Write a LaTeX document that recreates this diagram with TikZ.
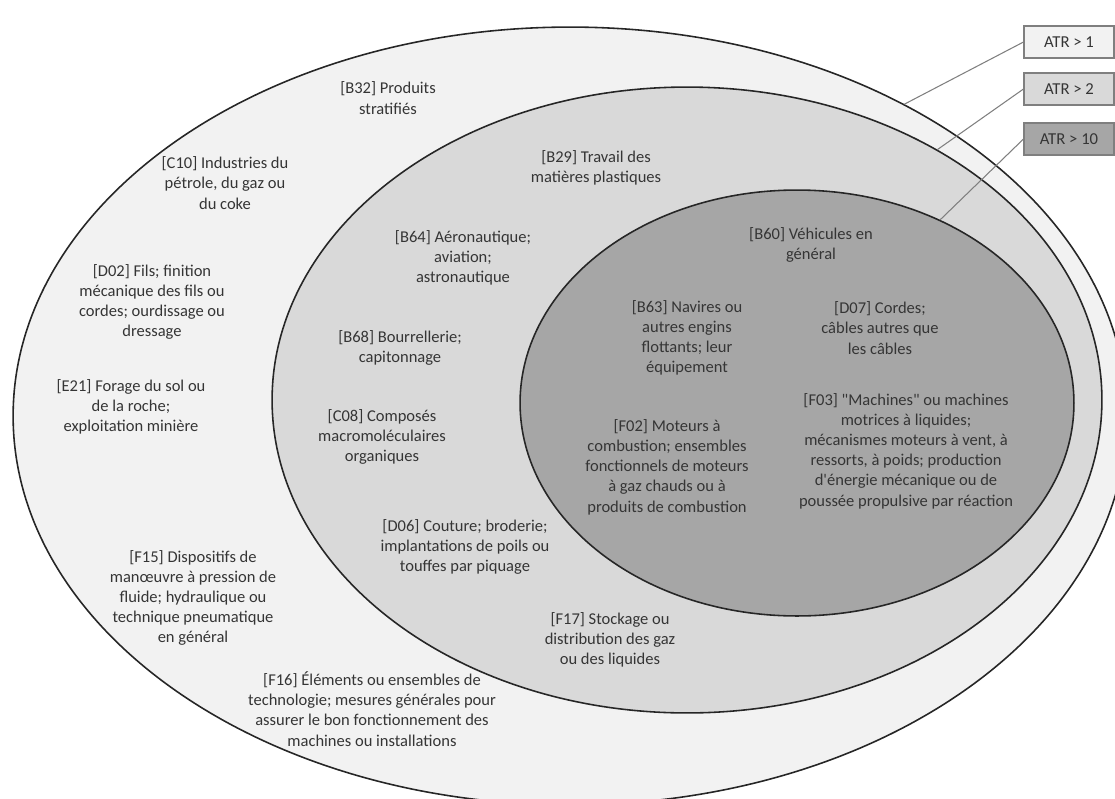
\documentclass[tikz,border=0pt]{standalone}
\usepackage{fontspec}
\setmainfont{Carlito}[Ligatures=TeXOff]
\usetikzlibrary{shapes.geometric}
\definecolor{ringone}{HTML}{F2F2F2}
\definecolor{ringtwo}{HTML}{D9D9D9}
\definecolor{ringten}{HTML}{A6A6A6}
\definecolor{edge}{HTML}{262626}
\definecolor{ink}{HTML}{353535}
\definecolor{boxline}{HTML}{7F7F7F}
\begin{document}
\begin{tikzpicture}[x=0.02cm,y=-0.02cm,
    ring/.style={ellipse,draw=edge,line width=0.9pt,inner sep=0pt},
    lbl/.style={text=ink,align=center,inner sep=0pt,font=\fontsize{9.4}{11.5}\selectfont},
    atrbox/.style={draw=boxline,line width=0.6pt,minimum width=1.8cm,minimum height=0.64cm,inner sep=0pt,text=ink,font=\fontsize{9.5}{10}\selectfont},
    lead/.style={draw=boxline,line width=0.6pt}]
    \useasboundingbox (0,0) rectangle (1115,798);
    \clip (0,0) rectangle (1115,798);
    \node[ring,fill=ringone,minimum width=22.28cm,minimum height=15.56cm] (outer) at (570,416) {};
    \node[ring,fill=ringtwo,minimum width=16.6cm,minimum height=12.52cm] (middle) at (687,400) {};
    \node[ring,fill=ringten,minimum width=11.08cm,minimum height=8.52cm] (inner) at (797,403) {};
    \node[atrbox,fill=ringone] (atrone) at (1069,42) {ATR > 1};
    \node[atrbox,fill=ringtwo] (atrtwo) at (1069,89) {ATR > 2};
    \node[atrbox,fill=ringten] (atrten) at (1069,139) {ATR > 10};
    \draw[lead] (atrone.west) -- (outer.43);
    \draw[lead] (atrtwo.west) -- (middle.45);
    \draw[lead] (atrten.west) -- (inner.52);
    \node[lbl] (b32) at (388,98) {[B32] Produits\\stratifiés};
    \node[lbl] (c10) at (225,183) {[C10] Industries du\\pétrole, du gaz ou\\du coke};
    \node[lbl] (d02) at (152,302) {[D02] Fils; finition\\mécanique des fils ou\\cordes; ourdissage ou\\dressage};
    \node[lbl] (e21) at (131,407) {[E21] Forage du sol ou\\de la roche;\\exploitation minière};
    \node[lbl] (f15) at (193,598) {[F15] Dispositifs de\\manœuvre à pression de\\fluide; hydraulique ou\\technique pneumatique\\en général};
    \node[lbl] (f16) at (372,709) {[F16] Éléments ou ensembles de\\technologie; mesures générales pour\\assurer le bon fonctionnement des\\machines ou installations};
    \node[lbl] (b29) at (596,168) {[B29] Travail des\\matières plastiques};
    \node[lbl] (b64) at (463,258) {[B64] Aéronautique;\\aviation;\\astronautique};
    \node[lbl] (b68) at (400,348) {[B68] Bourrellerie;\\capitonnage};
    \node[lbl] (c08) at (382,437) {[C08] Composés\\macromoléculaires\\organiques};
    \node[lbl] (d06) at (465,547) {[D06] Couture; broderie;\\implantations de poils ou\\touffes par piquage};
    \node[lbl] (f17) at (610,640) {[F17] Stockage ou\\distribution des gaz\\ou des liquides};
    \node[lbl] (b60) at (811,245) {[B60] Véhicules en\\général};
    \node[lbl] (b63) at (687,338) {[B63] Navires ou\\autres engins\\flottants; leur\\équipement};
    \node[lbl] (d07) at (880,328) {[D07] Cordes;\\câbles autres que\\les câbles};
    \node[lbl] (f02) at (667,467) {[F02] Moteurs à\\combustion; ensembles\\fonctionnels de moteurs\\à gaz chauds ou à\\produits de combustion};
    \node[lbl] (f03) at (906,451) {[F03] "Machines" ou machines\\motrices à liquides;\\mécanismes moteurs à vent, à\\ressorts, à poids; production\\d'énergie mécanique ou de\\poussée propulsive par réaction};
\end{tikzpicture}
\end{document}
